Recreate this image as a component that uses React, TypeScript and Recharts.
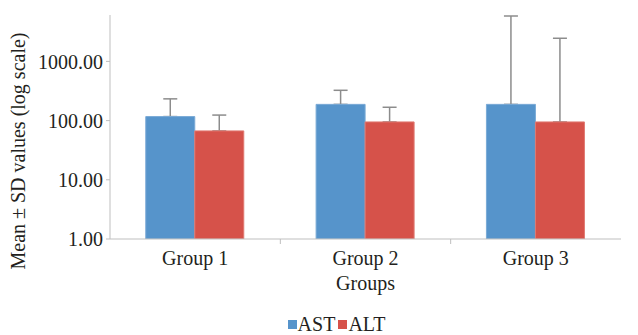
import { BarChart, Bar, XAxis, YAxis, ErrorBar, Legend, Label } from 'recharts';

const groups = ['Group 1', 'Group 2', 'Group 3'];
const astMean = [117, 188, 188];
const altMean = [67, 95, 95];
const astSd = [116, 137, 5660];
const altSd = [57, 73, 2365];
const yTicks = [1, 10, 100, 1000];

const FONT = '"Liberation Serif", "Times New Roman", Times, serif';
const TEXT = '#231f20';
const AXIS = '#bfbfbf';
const BLUE = '#5694cb';
const RED = '#d6524a';
const series = [
  { key: 'AST', color: BLUE },
  { key: 'ALT', color: RED },
];

const data = groups.map((g, i) => ({
  group: g,
  AST: astMean[i],
  ALT: altMean[i],
  astErr: [0, astSd[i]],
  altErr: [0, altSd[i]],
}));

function GroupTick(props: any) {
  const { x, y, payload, index } = props;
  const half = payload.offset || 0;
  return (
    <g>
      {index > 0 && (
        <line x1={x - half} x2={x - half} y1={y - 11} y2={y - 6} stroke={AXIS} strokeWidth={1} />
      )}
      <text x={x} y={y} dy={15} textAnchor="middle" style={{ fontFamily: FONT }} fontSize={20} fill={TEXT}>
        {payload.value}
      </text>
    </g>
  );
}

function YTitle() {
  return (
    <text
      transform="translate(25,151) rotate(-90)"
      textAnchor="middle"
      style={{ fontFamily: FONT }}
      fontSize={20}
      fill={TEXT}
    >
      Mean ± SD values (log scale)
    </text>
  );
}

function LegendBox() {
  return (
    <div
      style={{
        display: 'flex',
        justifyContent: 'center',
        alignItems: 'center',
        fontFamily: FONT,
        fontSize: 20,
        lineHeight: '18px',
        color: TEXT,
        paddingLeft: 38,
      }}
    >
      {series.map((s) => (
        <span key={s.key} style={{ display: 'flex', alignItems: 'center', marginRight: 3 }}>
          <span style={{ width: 9, height: 9, background: s.color, marginRight: 1 }} />
          {s.key}
        </span>
      ))}
    </div>
  );
}

export default function App() {
  return (
    <div style={{ position: 'absolute', left: 0, top: 0, background: '#fff' }}>
      <BarChart
        width={638}
        height={335}
        data={data}
        margin={{ top: 15, right: 17, left: 0, bottom: 18 }}
        barCategoryGap="21%"
        barGap={0}
      >
        <XAxis xAxisId="err" dataKey="group" hide height={0} />
        <XAxis
          xAxisId="main"
          dataKey="group"
          height={60}
          stroke={AXIS}
          tickLine={false}
          tickSize={5}
          tickMargin={6}
          tick={<GroupTick />}
          label={{ value: 'Groups', position: 'insideBottom', offset: 9, fill: TEXT, fontSize: 20, style: { fontFamily: FONT } }}
        />
        <YAxis
          scale="log"
          domain={[1, 6080]}
          allowDataOverflow
          ticks={yTicks}
          width={110}
          stroke={AXIS}
          tickSize={4}
          tickMargin={3}
          tick={{ fill: TEXT, fontSize: 20, style: { fontFamily: FONT } }}
          tickFormatter={(v: number) => v.toFixed(2)}
        >
          <Label content={<YTitle />} />
        </YAxis>
        <Legend
          verticalAlign="bottom"
          content={<LegendBox />}
          wrapperStyle={{ top: 315, left: 0, width: 638 }}
        />
        {/* error bars hang off a hidden twin axis, drawn under the bars so their lower caps are covered */}
        <Bar xAxisId="err" dataKey="AST" fill="none" legendType="none" isAnimationActive={false}>
          <ErrorBar dataKey="astErr" width={7} stroke="#8c8c8c" strokeWidth={1.5} direction="y" zIndex={250} />
        </Bar>
        <Bar xAxisId="err" dataKey="ALT" fill="none" legendType="none" isAnimationActive={false}>
          <ErrorBar dataKey="altErr" width={7} stroke="#8c8c8c" strokeWidth={1.5} direction="y" zIndex={250} />
        </Bar>
        <Bar xAxisId="main" dataKey="AST" fill={BLUE} stroke="#7aaad6" strokeWidth={1} isAnimationActive={false} />
        <Bar xAxisId="main" dataKey="ALT" fill={RED} stroke="#e07a72" strokeWidth={1} isAnimationActive={false} />
      </BarChart>
    </div>
  );
}
